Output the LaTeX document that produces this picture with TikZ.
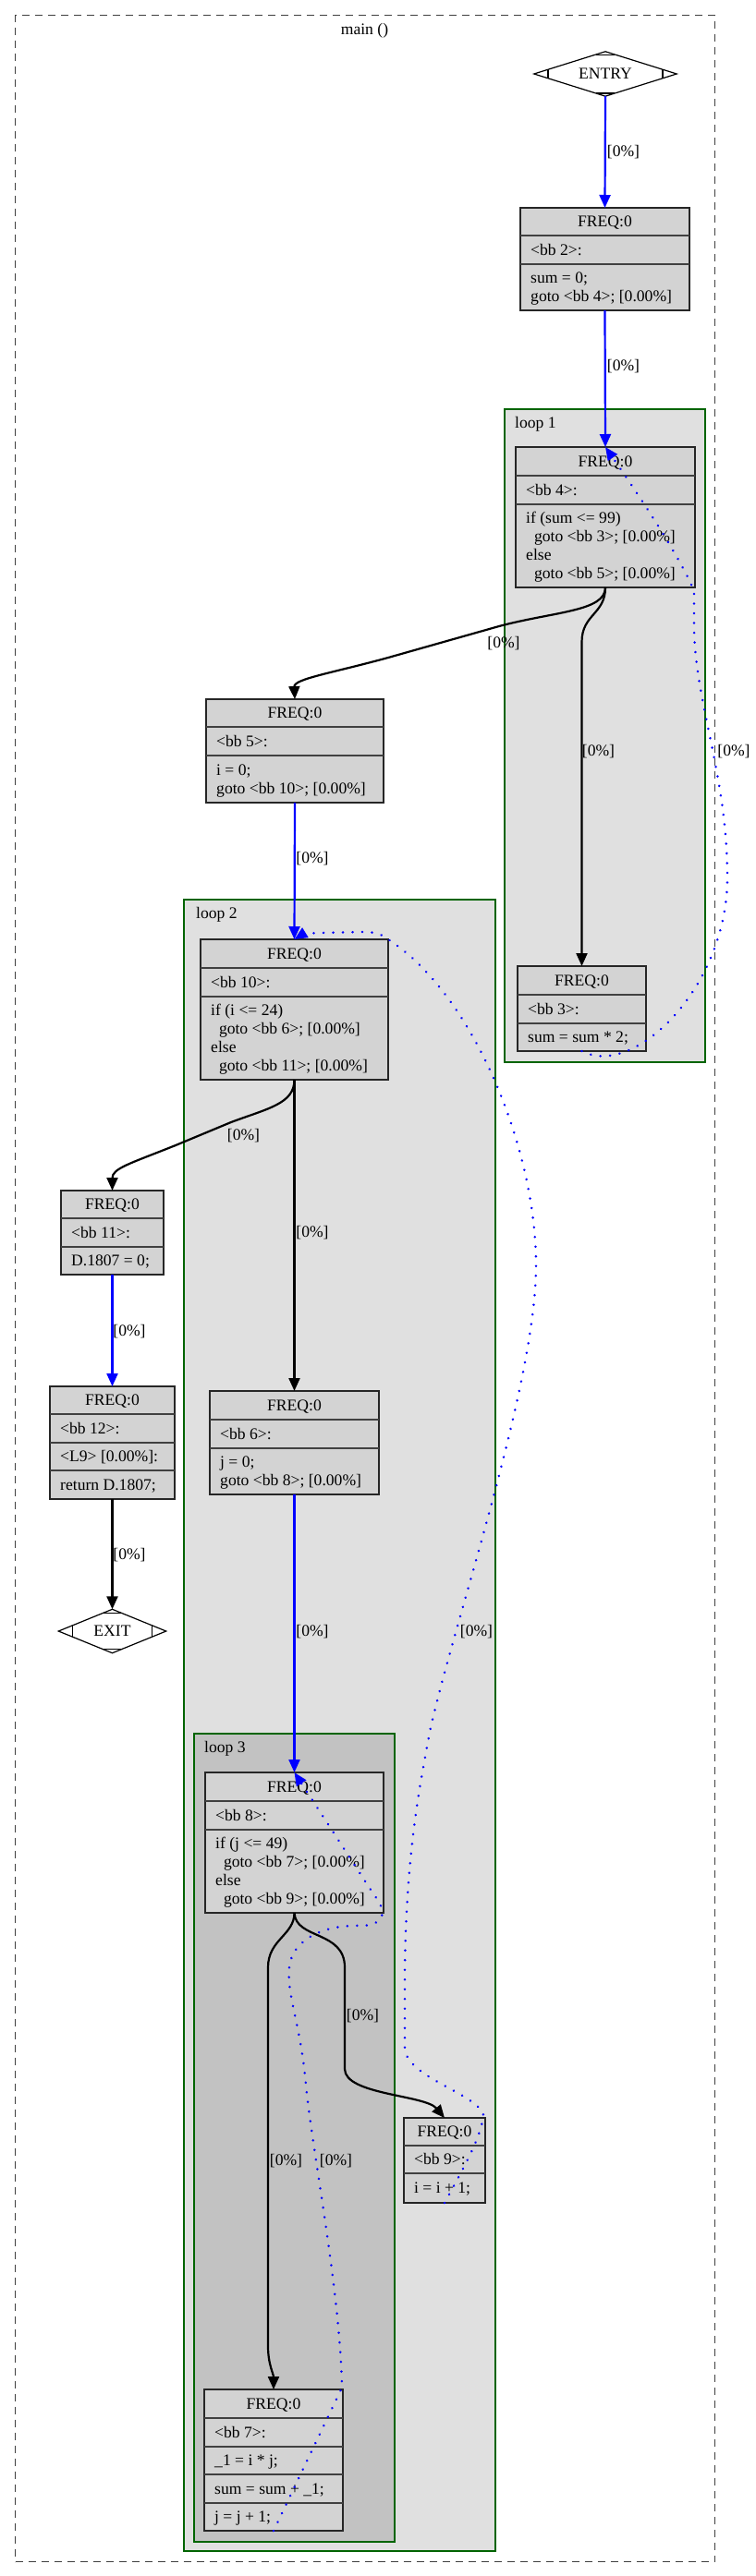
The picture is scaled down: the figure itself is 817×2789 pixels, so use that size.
\documentclass[tikz,border=0pt]{standalone}
\usepackage{fontspec}
\setmainfont{Liberation Serif}
\usetikzlibrary{arrows.meta}
\definecolor{boxfill}{HTML}{D3D3D3}
\definecolor{loopA}{HTML}{E0E0E0}
\definecolor{loopB}{HTML}{C2C2C2}
\definecolor{dkgreen}{HTML}{006400}
\newcommand\lrow[4]{\node[txt] (#1) at (#2,#3) {#4};}
\newcommand\crow[4]{\node[ctxt] (#1) at (#2,#3) {#4};}
\newcommand\gind{\hspace*{0.5em}}
\begin{document}
\begin{tikzpicture}[x=1pt,y=-1pt,
  font=\fontsize{17.6}{20}\selectfont,
  recbox/.style={draw=black!85, line width=1.3pt, fill=boxfill, inner sep=0pt, outer sep=0pt, anchor=north west},
  sepline/.style={black!75, line width=1.3pt},
  cluster/.style={draw=dkgreen, line width=2.2pt, inner sep=0pt, outer sep=0pt, anchor=north west},
  txt/.style={inner sep=0pt, anchor=base west},
  ctxt/.style={inner sep=0pt, anchor=base},
  lbl/.style={inner sep=0pt, anchor=base},
  blueedge/.style={-{Triangle[length=14pt,width=12pt]}, draw=blue, line width=2.2pt},
  blackedge/.style={-{Triangle[length=14pt,width=12pt]}, draw=black, line width=2.2pt},
  backedge/.style={-{Triangle[length=14pt,width=12pt,fill=blue]}, draw=blue, line width=2.8pt, dash pattern=on 0.01pt off 10.5pt, line cap=round},
]
\useasboundingbox (0,0) rectangle (817,2789);

% outer frame
\node[draw=black!75, dash pattern=on 8pt off 6pt, line width=1.2pt, minimum width=757pt, minimum height=2757pt, anchor=north west, inner sep=0pt] (frame) at (16,16) {};
\node[lbl] (title) at (394.5,37.5) {main ()};

% clusters
\node[cluster, fill=loopA, minimum width=337pt, minimum height=1788pt] (loop2) at (199,974) {};
\node[cluster, fill=loopB, minimum width=217pt, minimum height=875pt] (loop3) at (210,1877) {};
\node[cluster, fill=loopA, minimum width=217pt, minimum height=707pt] (loop1) at (546,443) {};
\node[txt] (loop1l) at (557,463) {loop 1};
\node[txt] (loop2l) at (212,994) {loop 2};
\node[txt] (loop3l) at (221,1897) {loop 3};

% ENTRY
\node[minimum width=154pt, minimum height=48pt, inner sep=0pt] (entry) at (655,80) {ENTRY};
\draw[line width=1.2pt] (entry.west) -- (entry.north) -- (entry.east) -- (entry.south) -- cycle;
\draw[line width=1.2pt] (593,75.3) -- (593,84.7) (717,75.3) -- (717,84.7)
  (645,59.1) -- (665,59.1) (645,100.9) -- (665,100.9);

% EXIT
\node[minimum width=116pt, minimum height=47pt, inner sep=0pt] (exit) at (121.5,1766) {EXIT};
\draw[line width=1.2pt] (exit.west) -- (exit.north) -- (exit.east) -- (exit.south) -- cycle;
\draw[line width=1.2pt] (78.5,1759.9) -- (78.5,1772.1) (164.5,1759.9) -- (164.5,1772.1)
  (111.5,1746.6) -- (131.5,1746.6) (111.5,1785.4) -- (131.5,1785.4);

% bb 2
\node[recbox, minimum width=183pt, minimum height=111pt] (bb2) at (563,225) {};
\draw[sepline] (563,255) -- (746,255) (563,286) -- (746,286);
\crow{bb2a}{654.5}{245.5}{FREQ:0}
\lrow{bb2b}{574}{276.5}{<bb 2>:}
\lrow{bb2c}{574}{306}{sum = 0;}
\lrow{bb2d}{574}{326}{goto <bb 4>; [0.00\%]}

% bb 4
\node[recbox, minimum width=194pt, minimum height=152pt] (bb4) at (558,484) {};
\draw[sepline] (558,515) -- (752,515) (558,546) -- (752,546);
\crow{bb4a}{655}{505}{FREQ:0}
\lrow{bb4b}{569}{536}{<bb 4>:}
\lrow{bb4c}{569}{566}{if (sum <= 99)}
\lrow{bb4d}{569}{586}{\gind goto <bb 3>; [0.00\%]}
\lrow{bb4e}{569}{606}{else}
\lrow{bb4f}{569}{626}{\gind goto <bb 5>; [0.00\%]}

% bb 3
\node[recbox, minimum width=139pt, minimum height=92pt] (bb3) at (560,1046) {};
\draw[sepline] (560,1077) -- (699,1077) (560,1108) -- (699,1108);
\crow{bb3a}{629.5}{1067}{FREQ:0}
\lrow{bb3b}{571}{1098}{<bb 3>:}
\lrow{bb3c}{571}{1128.5}{sum = sum * 2;}

% bb 5
\node[recbox, minimum width=192pt, minimum height=112pt] (bb5) at (223,757) {};
\draw[sepline] (223,787) -- (415,787) (223,818) -- (415,818);
\crow{bb5a}{319}{777.5}{FREQ:0}
\lrow{bb5b}{234}{808}{<bb 5>:}
\lrow{bb5c}{234}{839}{i = 0;}
\lrow{bb5d}{234}{859}{goto <bb 10>; [0.00\%]}

% bb 10
\node[recbox, minimum width=203pt, minimum height=152pt] (bb10) at (217,1017) {};
\draw[sepline] (217,1048) -- (420,1048) (217,1079) -- (420,1079);
\crow{bb10a}{318.5}{1038}{FREQ:0}
\lrow{bb10b}{228}{1069}{<bb 10>:}
\lrow{bb10c}{228}{1099.5}{if (i <= 24)}
\lrow{bb10d}{228}{1119.5}{\gind goto <bb 6>; [0.00\%]}
\lrow{bb10e}{228}{1139.5}{else}
\lrow{bb10f}{228}{1159.5}{\gind goto <bb 11>; [0.00\%]}

% bb 11
\node[recbox, minimum width=111pt, minimum height=91pt] (bb11) at (66,1289) {};
\draw[sepline] (66,1319) -- (177,1319) (66,1350) -- (177,1350);
\crow{bb11a}{121.5}{1309.5}{FREQ:0}
\lrow{bb11b}{77}{1340}{<bb 11>:}
\lrow{bb11c}{77}{1370.5}{D.1807 = 0;}

% bb 12
\node[recbox, minimum width=135pt, minimum height=122pt] (bb12) at (54,1501) {};
\draw[sepline] (54,1531) -- (189,1531) (54,1562) -- (189,1562) (54,1592) -- (189,1592);
\crow{bb12a}{121.5}{1521.5}{FREQ:0}
\lrow{bb12b}{65}{1552}{<bb 12>:}
\lrow{bb12c}{65}{1582.5}{<L9> [0.00\%]:}
\lrow{bb12d}{65}{1613}{return D.1807;}

% bb 6
\node[recbox, minimum width=183pt, minimum height=112pt] (bb6) at (227,1506) {};
\draw[sepline] (227,1537) -- (410,1537) (227,1568) -- (410,1568);
\crow{bb6a}{318.5}{1527}{FREQ:0}
\lrow{bb6b}{238}{1558}{<bb 6>:}
\lrow{bb6c}{238}{1588.5}{j = 0;}
\lrow{bb6d}{238}{1608.5}{goto <bb 8>; [0.00\%]}

% bb 8
\node[recbox, minimum width=193pt, minimum height=152pt] (bb8) at (222,1919) {};
\draw[sepline] (222,1950) -- (415,1950) (222,1981) -- (415,1981);
\crow{bb8a}{318.5}{1940}{FREQ:0}
\lrow{bb8b}{233}{1971}{<bb 8>:}
\lrow{bb8c}{233}{2001.5}{if (j <= 49)}
\lrow{bb8d}{233}{2021.5}{\gind goto <bb 7>; [0.00\%]}
\lrow{bb8e}{233}{2041.5}{else}
\lrow{bb8f}{233}{2061.5}{\gind goto <bb 9>; [0.00\%]}

% bb 9
\node[recbox, minimum width=88pt, minimum height=92pt] (bb9) at (437,2293) {};
\draw[sepline] (437,2323) -- (525,2323) (437,2353) -- (525,2353);
\crow{bb9a}{481}{2313.5}{FREQ:0}
\lrow{bb9b}{448}{2343.5}{<bb 9>:}
\lrow{bb9c}{448}{2374.5}{i = i + 1;}

% bb 7
\node[recbox, minimum width=150pt, minimum height=153pt] (bb7) at (221,2587) {};
\draw[sepline] (221,2618) -- (371,2618) (221,2649) -- (371,2649) (221,2679) -- (371,2679) (221,2710) -- (371,2710);
\crow{bb7a}{296}{2608}{FREQ:0}
\lrow{bb7b}{232}{2639}{<bb 7>:}
\lrow{bb7c}{232}{2669.5}{\_1 = i * j;}
\lrow{bb7d}{232}{2700}{sum = sum + \_1;}
\lrow{bb7e}{232}{2730.5}{j = j + 1;}

% edges
\draw[blueedge] (entry.south) -- (bb2.north);
\node[lbl] (l1) at (674.5,169) {[0\%]};
\draw[blueedge] (bb2.south) -- (bb4.north);
\node[lbl] (l2) at (674.5,401) {[0\%]};
\draw[blackedge] (bb4.south) .. controls (655,662) and (600,662) .. (540,678) -- (420,712) .. controls (358,729) and (318,735) .. (bb5.north);
\node[lbl] (l3) at (545,701) {[0\%]};
\draw[blackedge] (bb4.south) .. controls (655,665) and (629.5,665) .. (629.5,695) -- (bb3.north);
\node[lbl] (l4) at (647.5,818) {[0\%]};
\draw[backedge] (bb3.south) .. controls (685,1168) and (787,1070) .. (787,950) .. controls (787,840) and (752,760) .. (751,680) -- (751,640) .. controls (735,600) and (680,520) .. (bb4.north);
\node[lbl] (l5) at (794,818) {[0\%]};
\draw[blueedge] (bb5.south) -- (bb10.north);
\node[lbl] (l6) at (338,934) {[0\%]};
\draw[blackedge] (bb10.south) .. controls (318.5,1195) and (290,1200) .. (250,1215) -- (190,1240) .. controls (140,1260) and (121.5,1265) .. (bb11.north);
\node[lbl] (l7) at (263.5,1234) {[0\%]};
\draw[blackedge] (bb10.south) -- (bb6.north);
\node[lbl] (l8) at (338,1339) {[0\%]};
\draw[blueedge] (bb11.south) -- (bb12.north);
\node[lbl] (l9) at (140,1446) {[0\%]};
\draw[blackedge] (bb12.south) -- (exit.north);
\node[lbl] (l10) at (140,1688) {[0\%]};
\draw[blueedge] (bb6.south) -- (bb8.north);
\node[lbl] (l11) at (338,1771) {[0\%]};
\draw[blackedge] (bb8.south) .. controls (318.5,2095) and (290,2100) .. (290,2130) -- (290,2540) .. controls (290,2560) and (296,2570) .. (bb7.north);
\node[lbl] (l12) at (309.5,2344) {[0\%]};
\draw[blackedge] (bb8.south) .. controls (320,2100) and (373,2090) .. (373,2130) -- (373,2240) .. controls (373,2268) and (460,2268) .. (bb9.north);
\node[lbl] (l13) at (392.5,2187) {[0\%]};
\draw[backedge] (bb7.south) -- (370,2585) .. controls (368,2480) and (338,2330) .. (331,2257) .. controls (325,2190) and (310,2160) .. (313,2130) .. controls (316,2100) and (350,2083) .. (393,2085) .. controls (418,2083) and (418,2068) .. (405,2052) -- (bb8.north);
\node[lbl] (l14) at (363.5,2344) {[0\%]};
\draw[backedge] (bb9.south) .. controls (500,2350) and (523,2310) .. (523,2288) .. controls (510,2265) and (445,2250) .. (438,2220) -- (438,2130) .. controls (440,2000) and (455,1930) .. (465,1875) .. controls (490,1760) and (580,1500) .. (580,1370) .. controls (580,1240) and (510,1075) .. (420,1017) .. controls (410,1009) and (400,1009) .. (390,1009) -- (345,1010) .. controls (335,1010) and (325,1013) .. (bb10.north);
\node[lbl] (l15) at (515.5,1771) {[0\%]};
\end{tikzpicture}
\end{document}
